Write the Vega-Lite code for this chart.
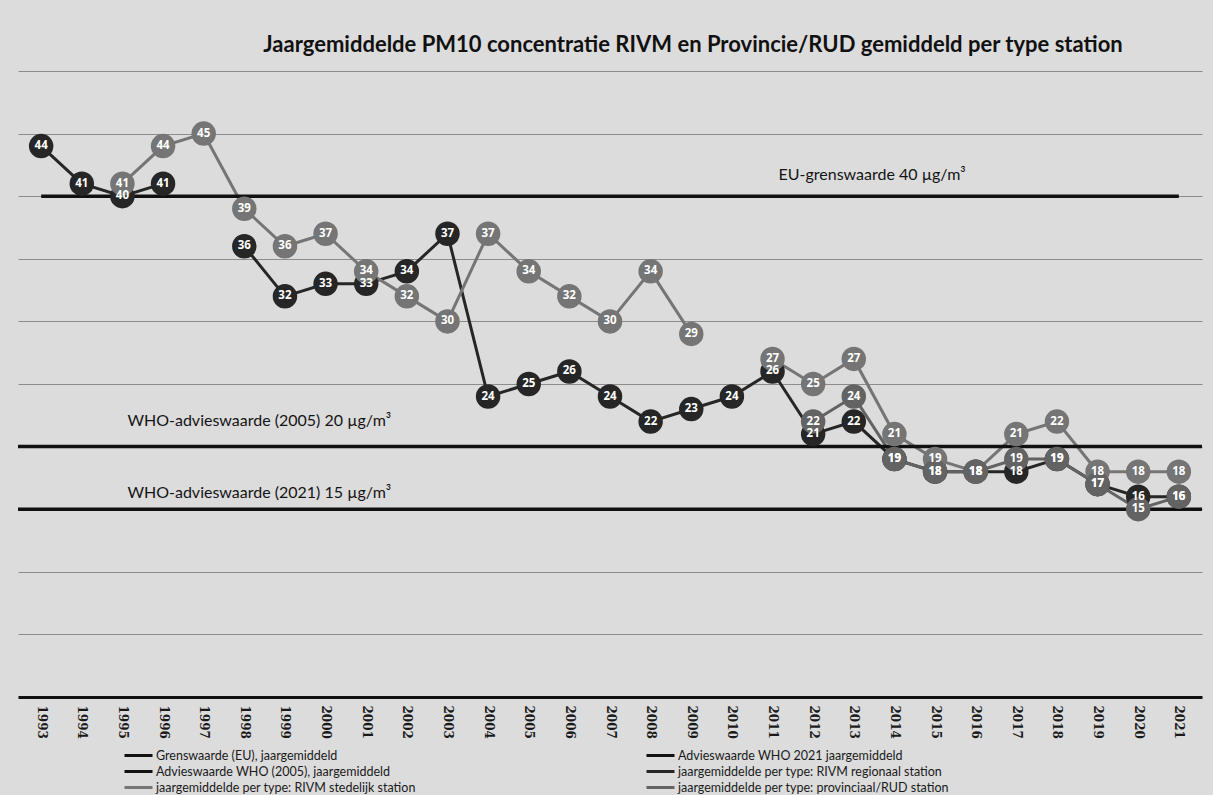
{
  "$schema": "https://vega.github.io/schema/vega-lite/v6.json",
  "autosize": {"type": "none"},
  "width": 1184,
  "height": 626,
  "padding": {"left": 18, "top": 71, "right": 11, "bottom": 98},
  "background": "#dcdcdc",
  "config": {
    "view": {"stroke": null},
    "font": "Lato"
  },
  "title": {
    "text": "Jaargemiddelde PM10 concentratie RIVM en Provincie/RUD gemiddeld per type station",
    "font": "Lato",
    "fontSize": 22,
    "fontWeight": "bold",
    "color": "#111111",
    "anchor": "middle",
    "dx": 83,
    "offset": 14
  },
  "datasets": {
    "series": [
      {"year": "1993", "series": "jaargemiddelde per type: RIVM regionaal station", "seg": "R1", "value": 44},
      {"year": "1994", "series": "jaargemiddelde per type: RIVM regionaal station", "seg": "R1", "value": 41},
      {"year": "1995", "series": "jaargemiddelde per type: RIVM regionaal station", "seg": "R1", "value": 40},
      {"year": "1996", "series": "jaargemiddelde per type: RIVM regionaal station", "seg": "R1", "value": 41},
      {"year": "1998", "series": "jaargemiddelde per type: RIVM regionaal station", "seg": "R2", "value": 36},
      {"year": "1999", "series": "jaargemiddelde per type: RIVM regionaal station", "seg": "R2", "value": 32},
      {"year": "2000", "series": "jaargemiddelde per type: RIVM regionaal station", "seg": "R2", "value": 33},
      {"year": "2001", "series": "jaargemiddelde per type: RIVM regionaal station", "seg": "R2", "value": 33},
      {"year": "2002", "series": "jaargemiddelde per type: RIVM regionaal station", "seg": "R2", "value": 34},
      {"year": "2003", "series": "jaargemiddelde per type: RIVM regionaal station", "seg": "R2", "value": 37},
      {"year": "2004", "series": "jaargemiddelde per type: RIVM regionaal station", "seg": "R2", "value": 24},
      {"year": "2005", "series": "jaargemiddelde per type: RIVM regionaal station", "seg": "R2", "value": 25},
      {"year": "2006", "series": "jaargemiddelde per type: RIVM regionaal station", "seg": "R2", "value": 26},
      {"year": "2007", "series": "jaargemiddelde per type: RIVM regionaal station", "seg": "R2", "value": 24},
      {"year": "2008", "series": "jaargemiddelde per type: RIVM regionaal station", "seg": "R2", "value": 22},
      {"year": "2009", "series": "jaargemiddelde per type: RIVM regionaal station", "seg": "R2", "value": 23},
      {"year": "2010", "series": "jaargemiddelde per type: RIVM regionaal station", "seg": "R2", "value": 24},
      {"year": "2011", "series": "jaargemiddelde per type: RIVM regionaal station", "seg": "R2", "value": 26},
      {"year": "2012", "series": "jaargemiddelde per type: RIVM regionaal station", "seg": "R2", "value": 21},
      {"year": "2013", "series": "jaargemiddelde per type: RIVM regionaal station", "seg": "R2", "value": 22},
      {"year": "2014", "series": "jaargemiddelde per type: RIVM regionaal station", "seg": "R2", "value": 19},
      {"year": "2015", "series": "jaargemiddelde per type: RIVM regionaal station", "seg": "R2", "value": 18},
      {"year": "2016", "series": "jaargemiddelde per type: RIVM regionaal station", "seg": "R2", "value": 18},
      {"year": "2017", "series": "jaargemiddelde per type: RIVM regionaal station", "seg": "R2", "value": 18},
      {"year": "2018", "series": "jaargemiddelde per type: RIVM regionaal station", "seg": "R2", "value": 19},
      {"year": "2019", "series": "jaargemiddelde per type: RIVM regionaal station", "seg": "R2", "value": 17},
      {"year": "2020", "series": "jaargemiddelde per type: RIVM regionaal station", "seg": "R2", "value": 16},
      {"year": "2021", "series": "jaargemiddelde per type: RIVM regionaal station", "seg": "R2", "value": 16},
      {"year": "1995", "series": "jaargemiddelde per type: RIVM stedelijk station", "seg": "S1", "value": 41},
      {"year": "1996", "series": "jaargemiddelde per type: RIVM stedelijk station", "seg": "S1", "value": 44},
      {"year": "1997", "series": "jaargemiddelde per type: RIVM stedelijk station", "seg": "S1", "value": 45},
      {"year": "1998", "series": "jaargemiddelde per type: RIVM stedelijk station", "seg": "S1", "value": 39},
      {"year": "1999", "series": "jaargemiddelde per type: RIVM stedelijk station", "seg": "S1", "value": 36},
      {"year": "2000", "series": "jaargemiddelde per type: RIVM stedelijk station", "seg": "S1", "value": 37},
      {"year": "2001", "series": "jaargemiddelde per type: RIVM stedelijk station", "seg": "S1", "value": 34},
      {"year": "2002", "series": "jaargemiddelde per type: RIVM stedelijk station", "seg": "S1", "value": 32},
      {"year": "2003", "series": "jaargemiddelde per type: RIVM stedelijk station", "seg": "S1", "value": 30},
      {"year": "2004", "series": "jaargemiddelde per type: RIVM stedelijk station", "seg": "S1", "value": 37},
      {"year": "2005", "series": "jaargemiddelde per type: RIVM stedelijk station", "seg": "S1", "value": 34},
      {"year": "2006", "series": "jaargemiddelde per type: RIVM stedelijk station", "seg": "S1", "value": 32},
      {"year": "2007", "series": "jaargemiddelde per type: RIVM stedelijk station", "seg": "S1", "value": 30},
      {"year": "2008", "series": "jaargemiddelde per type: RIVM stedelijk station", "seg": "S1", "value": 34},
      {"year": "2009", "series": "jaargemiddelde per type: RIVM stedelijk station", "seg": "S1", "value": 29},
      {"year": "2011", "series": "jaargemiddelde per type: RIVM stedelijk station", "seg": "S2", "value": 27},
      {"year": "2012", "series": "jaargemiddelde per type: RIVM stedelijk station", "seg": "S2", "value": 25},
      {"year": "2013", "series": "jaargemiddelde per type: RIVM stedelijk station", "seg": "S2", "value": 27},
      {"year": "2014", "series": "jaargemiddelde per type: RIVM stedelijk station", "seg": "S2", "value": 21},
      {"year": "2015", "series": "jaargemiddelde per type: RIVM stedelijk station", "seg": "S2", "value": 19},
      {"year": "2016", "series": "jaargemiddelde per type: RIVM stedelijk station", "seg": "S2", "value": 18},
      {"year": "2017", "series": "jaargemiddelde per type: RIVM stedelijk station", "seg": "S2", "value": 21},
      {"year": "2018", "series": "jaargemiddelde per type: RIVM stedelijk station", "seg": "S2", "value": 22},
      {"year": "2019", "series": "jaargemiddelde per type: RIVM stedelijk station", "seg": "S2", "value": 18},
      {"year": "2020", "series": "jaargemiddelde per type: RIVM stedelijk station", "seg": "S2", "value": 18},
      {"year": "2021", "series": "jaargemiddelde per type: RIVM stedelijk station", "seg": "S2", "value": 18},
      {"year": "2012", "series": "jaargemiddelde per type: provinciaal/RUD station", "seg": "P1", "value": 22},
      {"year": "2013", "series": "jaargemiddelde per type: provinciaal/RUD station", "seg": "P1", "value": 24},
      {"year": "2014", "series": "jaargemiddelde per type: provinciaal/RUD station", "seg": "P1", "value": 19},
      {"year": "2015", "series": "jaargemiddelde per type: provinciaal/RUD station", "seg": "P1", "value": 18},
      {"year": "2016", "series": "jaargemiddelde per type: provinciaal/RUD station", "seg": "P1", "value": 18},
      {"year": "2017", "series": "jaargemiddelde per type: provinciaal/RUD station", "seg": "P1", "value": 19},
      {"year": "2018", "series": "jaargemiddelde per type: provinciaal/RUD station", "seg": "P1", "value": 19},
      {"year": "2019", "series": "jaargemiddelde per type: provinciaal/RUD station", "seg": "P1", "value": 17},
      {"year": "2020", "series": "jaargemiddelde per type: provinciaal/RUD station", "seg": "P1", "value": 15},
      {"year": "2021", "series": "jaargemiddelde per type: provinciaal/RUD station", "seg": "P1", "value": 16}
    ],
    "refs": [
      {"series": "Grenswaarde (EU), jaargemiddeld", "value": 40, "label": "EU-grenswaarde 40 µg/m³", "from": "1993", "to": "2021", "at": "2011"},
      {"series": "Advieswaarde WHO (2005), jaargemiddeld", "value": 20, "label": "WHO-advieswaarde (2005) 20 µg/m³", "from": "1993", "to": "2021", "at": "1995"},
      {"series": "Advieswaarde WHO 2021 jaargemiddeld", "value": 15, "label": "WHO-advieswaarde (2021) 15 µg/m³", "from": "1993", "to": "2021", "at": "1995"}
    ]
  },
  "layer": [
    {
      "data": {"name": "series"},
      "mark": {"type": "line", "strokeWidth": 3},
      "encoding": {
        "x": {
          "field": "year",
          "type": "ordinal",
          "scale": {"type": "point", "padding": 0.57, "domain": ["1993","1994","1995","1996","1997","1998","1999","2000","2001","2002","2003","2004","2005","2006","2007","2008","2009","2010","2011","2012","2013","2014","2015","2016","2017","2018","2019","2020","2021"]},
          "axis": {
            "title": null,
            "labelAngle": 90,
            "labelFont": "DejaVu Serif",
            "labelFontWeight": "bold",
            "labelFontSize": 12,
            "labelColor": "#1a1a1a",
            "labelPadding": 8,
            "ticks": false,
            "domainColor": "#111111",
            "domainWidth": 3,
            "grid": false
          }
        },
        "y": {
          "field": "value",
          "type": "quantitative",
          "scale": {"domain": [0, 50], "nice": false, "zero": true},
          "axis": {
            "title": null,
            "labels": false,
            "ticks": false,
            "domain": false,
            "values": [5, 10, 15, 20, 25, 30, 35, 40, 45, 50],
            "gridColor": "#8c8c8c",
            "gridWidth": 1.2
          }
        },
        "color": {
          "field": "series",
          "type": "nominal",
          "scale": {
            "domain": [
              "Grenswaarde (EU), jaargemiddeld",
              "Advieswaarde WHO (2005), jaargemiddeld",
              "jaargemiddelde per type: RIVM stedelijk station",
              "Advieswaarde WHO 2021 jaargemiddeld",
              "jaargemiddelde per type: RIVM regionaal station",
              "jaargemiddelde per type: provinciaal/RUD station"
            ],
            "range": ["#111111", "#111111", "#757575", "#111111", "#262626", "#636363"]
          },
          "legend": {
            "title": null,
            "orient": "none",
            "legendX": 105,
            "legendY": 675,
            "columns": 2,
            "columnPadding": 224,
            "rowPadding": 0,
            "padding": 0,
            "symbolType": "M-1.75,0H1.75",
            "symbolSize": 256,
            "symbolStrokeWidth": 3,
            "symbolOffset": 6,
            "labelFont": "Lato",
            "labelFontSize": 12.5,
            "labelColor": "#1a1a1a",
            "labelOffset": 8,
            "labelLimit": 400
          }
        },
        "detail": {"field": "seg"}
      }
    },
    {
      "data": {"name": "refs"},
      "transform": [{"filter": "datum.value == 40"}],
      "mark": {"type": "rule", "strokeWidth": 3.5},
      "encoding": {
        "x": {"field": "from", "type": "ordinal", "axis": {"title": null}},
        "x2": {"field": "to"},
        "y": {"field": "value", "type": "quantitative", "axis": {"title": null}},
        "color": {"field": "series", "type": "nominal"}
      }
    },
    {
      "data": {"name": "refs"},
      "transform": [{"filter": "datum.value < 40"}],
      "mark": {"type": "rule", "strokeWidth": 3.5},
      "encoding": {
        "y": {"field": "value", "type": "quantitative", "axis": {"title": null}},
        "color": {"field": "series", "type": "nominal"}
      }
    },
    {
      "data": {"name": "refs"},
      "transform": [{"filter": "datum.value == 40"}],
      "mark": {"type": "text", "align": "left", "baseline": "middle", "dx": 6, "dy": -21, "font": "Lato", "fontSize": 16, "color": "#141414"},
      "encoding": {
        "x": {"field": "at", "type": "ordinal", "axis": {"title": null}},
        "y": {"field": "value", "type": "quantitative", "axis": {"title": null}},
        "text": {"field": "label"}
      }
    },
    {
      "data": {"name": "refs"},
      "transform": [{"filter": "datum.value == 20"}],
      "mark": {"type": "text", "align": "left", "baseline": "middle", "dx": 5, "dy": -26, "font": "Lato", "fontSize": 16, "color": "#141414"},
      "encoding": {
        "x": {"field": "at", "type": "ordinal", "axis": {"title": null}},
        "y": {"field": "value", "type": "quantitative", "axis": {"title": null}},
        "text": {"field": "label"}
      }
    },
    {
      "data": {"name": "refs"},
      "transform": [{"filter": "datum.value == 15"}],
      "mark": {"type": "text", "align": "left", "baseline": "middle", "dx": 5, "dy": -16, "font": "Lato", "fontSize": 16, "color": "#141414"},
      "encoding": {
        "x": {"field": "at", "type": "ordinal", "axis": {"title": null}},
        "y": {"field": "value", "type": "quantitative", "axis": {"title": null}},
        "text": {"field": "label"}
      }
    },
    {
      "data": {"name": "series"},
      "mark": {"type": "point", "filled": true, "size": 600, "opacity": 1, "shape": "circle"},
      "encoding": {
        "x": {"field": "year", "type": "ordinal", "axis": {"title": null}},
        "y": {"field": "value", "type": "quantitative", "axis": {"title": null}},
        "color": {"field": "series", "type": "nominal"}
      }
    },
    {
      "data": {"name": "series"},
      "mark": {"type": "text", "color": "white", "font": "Open Sans", "fontWeight": "bold", "fontSize": 11.5, "baseline": "middle", "align": "center"},
      "encoding": {
        "x": {"field": "year", "type": "ordinal", "axis": {"title": null}},
        "y": {"field": "value", "type": "quantitative", "axis": {"title": null}},
        "text": {"field": "value", "type": "quantitative"}
      }
    }
  ],
  "resolve": {"scale": {"color": "shared"}}
}
